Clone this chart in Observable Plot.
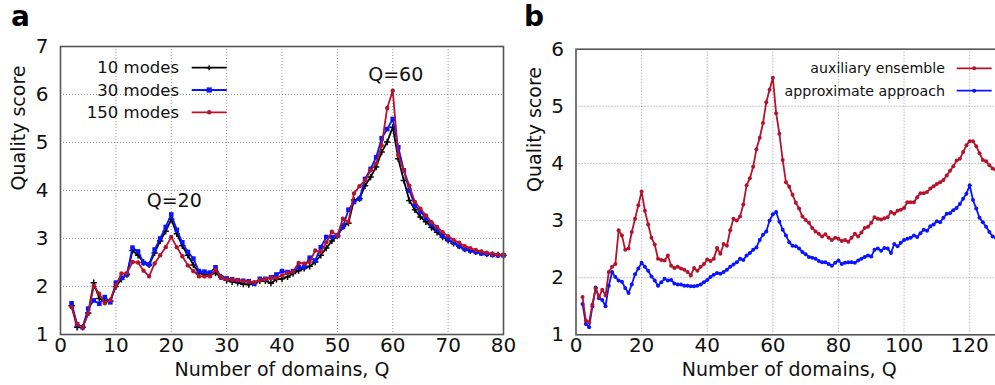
<!DOCTYPE html>
<html><head><meta charset="utf-8">
<script src="https://cdn.jsdelivr.net/npm/d3@7"></script>
<script src="https://cdn.jsdelivr.net/npm/@observablehq/plot@0.6"></script>
<style>
html,body{margin:0;padding:0;background:#fff;overflow:hidden;width:995px;height:385px}
#wrap{position:relative;width:995px;height:385px;overflow:hidden}
.panel{position:absolute;top:0}
</style></head><body><div id="wrap"></div>
<script>
// ---------- Panel a data (Q = 2..80) ----------
const qA = d3.range(2, 81);
const modes10 = [1.60,1.15,1.15,1.45,2.08,1.75,1.70,1.70,2.00,2.15,2.25,2.75,2.65,2.50,2.45,2.70,2.95,3.15,3.40,3.10,2.85,2.65,2.45,2.28,2.25,2.25,2.28,2.20,2.13,2.10,2.08,2.05,2.04,2.07,2.12,2.12,2.07,2.15,2.16,2.20,2.27,2.33,2.38,2.42,2.51,2.65,2.80,2.95,3.05,3.25,3.32,3.80,3.83,4.10,4.28,4.49,4.80,5.01,5.32,4.66,4.21,3.79,3.60,3.45,3.35,3.23,3.13,3.03,2.96,2.90,2.84,2.78,2.75,2.72,2.70,2.68,2.67,2.66,2.65];
const modes30 = [1.65,1.21,1.15,1.54,1.71,1.64,1.78,1.67,2.08,2.18,2.25,2.81,2.73,2.49,2.46,2.77,3.00,3.24,3.50,3.18,2.92,2.72,2.58,2.32,2.31,2.29,2.40,2.19,2.17,2.15,2.13,2.12,2.11,2.06,2.16,2.16,2.19,2.25,2.32,2.30,2.32,2.40,2.40,2.60,2.54,2.82,3.03,3.03,3.06,3.24,3.60,3.76,3.83,4.24,4.45,4.69,5.09,5.28,5.49,4.90,4.42,4.00,3.69,3.56,3.43,3.29,3.18,3.06,2.98,2.91,2.84,2.78,2.75,2.72,2.69,2.68,2.66,2.65,2.65];
const modes150 = [1.57,1.22,1.15,1.43,2.01,1.85,1.65,1.72,2.02,2.27,2.28,2.51,2.50,2.33,2.21,2.48,2.65,2.82,3.03,2.82,2.63,2.44,2.32,2.21,2.21,2.21,2.35,2.19,2.15,2.14,2.13,2.11,2.10,2.09,2.13,2.15,2.18,2.18,2.23,2.28,2.31,2.49,2.48,2.51,2.75,2.72,2.92,3.14,3.06,3.41,3.35,3.94,4.09,4.21,4.42,4.56,4.94,5.72,6.08,4.73,4.42,4.10,3.76,3.62,3.48,3.34,3.24,3.13,3.05,2.97,2.91,2.84,2.80,2.76,2.73,2.70,2.68,2.66,2.65];
const xTicksA = [0,10,20,30,40,50,60,70,80];
const yTicksA = [1,2,3,4,5,6,7];
const annotA = [{q:20, v:3.79, label:"Q=20"}, {q:60, v:6.40, label:"Q=60"}];
const legendA = ["10 modes", "30 modes", "150 modes"];

// ---------- Panel b data (Q = 2..128) ----------
const qB = d3.range(2, 129);
const auxiliary = [1.66,1.25,1.22,1.53,1.81,1.66,1.79,1.69,2.10,2.19,2.24,2.83,2.74,2.49,2.51,2.80,3.03,3.27,3.51,3.17,2.93,2.70,2.58,2.33,2.31,2.30,2.39,2.21,2.17,2.19,2.16,2.14,2.10,2.04,2.17,2.12,2.19,2.24,2.32,2.29,2.33,2.52,2.42,2.59,2.56,2.83,3.03,3.00,3.07,3.28,3.62,3.74,3.94,4.25,4.45,4.71,5.07,5.29,5.50,4.88,4.52,4.06,3.67,3.59,3.45,3.31,3.21,3.07,3.01,2.96,2.87,2.81,2.77,2.72,2.76,2.70,2.66,2.70,2.68,2.64,2.66,2.63,2.70,2.77,2.72,2.79,2.87,2.89,2.96,3.06,3.03,3.02,3.04,3.06,3.15,3.12,3.17,3.19,3.22,3.32,3.32,3.32,3.41,3.48,3.48,3.50,3.56,3.60,3.64,3.67,3.71,3.79,3.87,3.95,4.05,4.08,4.20,4.32,4.39,4.39,4.30,4.18,4.06,4.04,3.97,3.91,3.89];
const approximate = [1.54,1.19,1.13,1.50,1.83,1.64,1.61,1.50,1.86,2.10,2.01,1.95,1.93,1.82,1.73,1.88,2.06,2.16,2.26,2.19,2.12,2.02,1.95,1.86,1.92,1.98,1.95,1.96,1.90,1.88,1.88,1.86,1.86,1.85,1.85,1.86,1.88,1.92,1.96,2.01,2.05,2.08,2.07,2.10,2.14,2.19,2.23,2.27,2.33,2.31,2.39,2.43,2.49,2.53,2.66,2.75,2.81,3.00,3.11,3.15,2.98,2.84,2.74,2.62,2.56,2.55,2.51,2.45,2.41,2.36,2.35,2.33,2.29,2.27,2.27,2.24,2.21,2.26,2.30,2.24,2.26,2.27,2.27,2.26,2.30,2.33,2.36,2.39,2.37,2.49,2.51,2.47,2.52,2.51,2.43,2.59,2.55,2.61,2.66,2.68,2.70,2.74,2.71,2.78,2.84,2.82,2.90,2.93,2.99,2.97,3.05,3.12,3.13,3.18,3.22,3.29,3.38,3.47,3.62,3.36,3.21,3.05,2.97,2.89,2.80,2.72,2.70];
const xTicksB = [0,20,40,60,80,100,120];
const yTicksB = [1,2,3,4,5,6];
const legendB = ["auxiliary ensemble", "approximate approach"];

// ---------- styling ----------
const FONT = '"DejaVu Sans", sans-serif';
const BLACK = "#000000", BLUE = "#0a14ff", RED = "#b5122b";
const gridStyle = {stroke:"#8a8a8a", strokeOpacity:1, strokeWidth:0.9, strokeDasharray:"1,2"};
const TICK_FS = 20, TITLE_FS = 19;
const fmt = d3.format("d");

const toRows = (qs, vs) => qs.map((q, i) => ({q, v: vs[i]}));

const wrap = document.getElementById("wrap");

// ---------- Panel a ----------
const a10 = toRows(qA, modes10), a30 = toRows(qA, modes30), a150 = toRows(qA, modes150);
const plotA = Plot.plot({
  width: 520, height: 385,
  marginLeft: 60, marginRight: 17, marginTop: 46, marginBottom: 51,
  style: {fontFamily: FONT, fontSize: "18px", color: "#111", background: "transparent", overflow: "visible"},
  x: {domain: [0, 80], label: null},
  y: {domain: [1, 7], label: null},
  marks: [
    Plot.gridX(xTicksA.slice(1, -1), gridStyle),
    Plot.gridY(yTicksA.slice(1, -1), gridStyle),
    Plot.axisX(xTicksA, {tickSize: 0, tickPadding: 3, fontSize: TICK_FS, tickFormat: fmt, label: null}),
    Plot.axisY(yTicksA, {tickSize: 0, tickPadding: 12, fontSize: TICK_FS, tickFormat: fmt, label: null}),
    Plot.line(a10, {x: "q", y: "v", stroke: BLACK, strokeWidth: 1.8}),
    Plot.dot(a10, {x: "q", y: "v", symbol: "plus", r: 2.2, stroke: BLACK, strokeWidth: 1.5}),
    Plot.line(a30, {x: "q", y: "v", stroke: BLUE, strokeWidth: 1.8}),
    Plot.dot(a30, {x: "q", y: "v", symbol: "square", r: 2.6, fill: BLUE}),
    Plot.line(a150, {x: "q", y: "v", stroke: RED, strokeWidth: 1.8}),
    Plot.dot(a150, {x: "q", y: "v", r: 2.2, fill: RED}),
    Plot.text(annotA, {x: "q", y: "v", text: "label", fontSize: 19, dx: 3, fill: "#111"}),
    Plot.frame({stroke: "#555", strokeWidth: 1.6}),
    Plot.text(["Number of domains, Q"], {frameAnchor: "bottom", lineAnchor: "bottom", dy: 41, fontSize: TITLE_FS, fill: "#111"}),
    Plot.text(["Quality score"], {frameAnchor: "left", rotate: -90, dx: -42, fontSize: TITLE_FS, fill: "#111"})
  ]
});
plotA.classList.add("panel");
plotA.style.left = "0px";
wrap.appendChild(plotA);

// ---------- Panel b ----------
const bAux = toRows(qB, auxiliary), bApp = toRows(qB, approximate);
const plotB = Plot.plot({
  width: 500, height: 385,
  marginLeft: 55.5, marginRight: 18, marginTop: 48.7, marginBottom: 50.7,
  style: {fontFamily: FONT, fontSize: "18px", color: "#111", background: "transparent", overflow: "visible"},
  x: {domain: [0, 130], label: null},
  y: {domain: [1, 6], label: null},
  marks: [
    Plot.gridX(xTicksB.slice(1), gridStyle),
    Plot.gridY(yTicksB.slice(1, -1), gridStyle),
    Plot.axisX(xTicksB, {tickSize: 0, tickPadding: 3, fontSize: TICK_FS, tickFormat: fmt, label: null}),
    Plot.axisY(yTicksB, {tickSize: 0, tickPadding: 12, fontSize: TICK_FS, tickFormat: fmt, label: null}),
    Plot.line(bApp, {x: "q", y: "v", stroke: BLUE, strokeWidth: 1.8}),
    Plot.dot(bApp, {x: "q", y: "v", r: 2, fill: BLUE}),
    Plot.line(bAux, {x: "q", y: "v", stroke: RED, strokeWidth: 1.8}),
    Plot.dot(bAux, {x: "q", y: "v", r: 2, fill: RED}),
    Plot.frame({stroke: "#555", strokeWidth: 1.6}),
    Plot.text(["Number of domains, Q"], {frameAnchor: "bottom", lineAnchor: "bottom", dy: 41, fontSize: TITLE_FS, fill: "#111"}),
    Plot.text(["Quality score"], {frameAnchor: "left", rotate: -90, dx: -41, fontSize: TITLE_FS, fill: "#111"})
  ]
});
plotB.classList.add("panel");
plotB.style.left = "520px";
wrap.appendChild(plotB);

// ---------- panel tags and legends ----------
function tag(svg, letter, x, y) {
  d3.select(svg).append("text").attr("x", x).attr("y", y)
    .attr("text-anchor", "start")
    .attr("font-family", FONT).attr("font-weight", "bold").attr("font-size", 28)
    .attr("fill", "#000").text(letter);
}
tag(plotA, "a", 11, 26);
tag(plotB, "b", 4, 26);

function legend(svg, labels, styles, xText, x1, x2, y0, step, fs) {
  const g = d3.select(svg).append("g").attr("font-family", FONT).attr("font-size", fs);
  labels.forEach((lab, i) => {
    const y = y0 + i * step, st = styles[i];
    g.append("text").attr("x", xText).attr("y", y).attr("dy", "0.35em")
      .attr("text-anchor", "end").attr("fill", "#111").text(lab);
    g.append("line").attr("x1", x1).attr("x2", x2).attr("y1", y).attr("y2", y)
      .attr("stroke", st.color).attr("stroke-width", 1.8);
    const cx = (x1 + x2) / 2;
    if (st.sym === "plus") {
      g.append("path").attr("d", `M${cx-2.5},${y}H${cx+2.5}M${cx},${y-2.5}V${y+2.5}`)
        .attr("stroke", st.color).attr("stroke-width", 1.5);
    } else if (st.sym === "square") {
      g.append("rect").attr("x", cx - 2.6).attr("y", y - 2.6).attr("width", 5.2).attr("height", 5.2).attr("fill", st.color);
    } else {
      g.append("circle").attr("cx", cx).attr("cy", y).attr("r", st.r || 2.2).attr("fill", st.color);
    }
  });
}
legend(plotA, legendA, [{color: BLACK, sym: "plus"}, {color: BLUE, sym: "square"}, {color: RED, sym: "circle"}],
  179, 191.7, 226.7, 67.7, 22.3, 16.5);
legend(plotB, legendB, [{color: RED, sym: "circle", r: 2}, {color: BLUE, sym: "circle", r: 2}],
  425, 436.7, 471.7, 68.3, 22.4, 14.2);
</script>
</body></html>
